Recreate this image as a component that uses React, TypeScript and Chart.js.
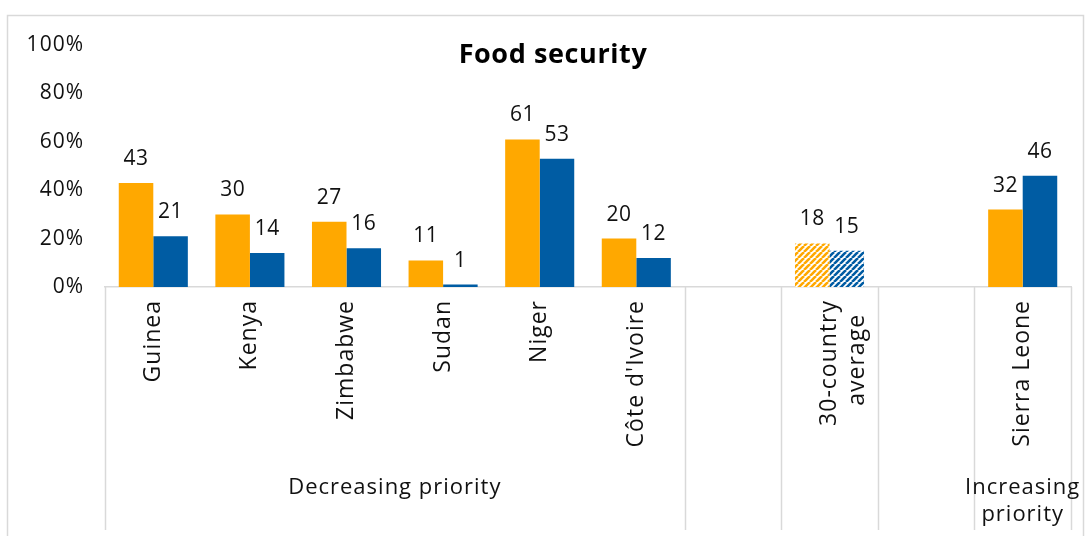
import React, { useEffect, useRef } from "react";
import { Chart, registerables } from "chart.js";

Chart.register(...registerables);

const categories: (string | string[])[] = [
  "Guinea",
  "Kenya",
  "Zimbabwe",
  "Sudan",
  "Niger",
  "Côte d'Ivoire",
  "",
  ["30-country", "average"],
  "",
  "Sierra Leone",
];
const seriesOrange: (number | null)[] = [43, 30, 27, 11, 61, 20, null, 18, null, 32];
const seriesBlue: (number | null)[] = [21, 14, 16, 1, 53, 12, null, 15, null, 46];
const hatchedIndex = 7;
const yTickValues = [0, 20, 40, 60, 80, 100];
const groupLabels = [
  { text: ["Decreasing priority"], from: 0, to: 5 },
  { text: ["Increasing", "priority"], from: 9, to: 9 },
];
const groupBoundaries = [5, 6, 7, 8];
const titleText = "Food security";

const ORANGE = "#FFA800";
const BLUE = "#005CA3";
const GRID = "#D9D9D9";
const TEXT = "#111111";
const FONT = "'Open Sans', Lato, sans-serif";
const W = 1085;
const H = 536;

function makeHatch(color: string): CanvasPattern | string {
  const s = 6;
  const c = document.createElement("canvas");
  c.width = s;
  c.height = s;
  const g = c.getContext("2d");
  if (!g) return color;
  g.fillStyle = "#ffffff";
  g.fillRect(0, 0, s, s);
  g.strokeStyle = color;
  g.lineWidth = 2.6;
  g.beginPath();
  for (let k = -1; k <= 1; k++) {
    g.moveTo(k * s, s);
    g.lineTo(k * s + s, 0);
  }
  g.stroke();
  const p = g.createPattern(c, "repeat");
  return p || color;
}

function setSpacing(ctx: any, v: string) {
  try {
    ctx.letterSpacing = v;
  } catch (e) {
    /* ignore */
  }
}

const decorPlugin = {
  id: "decor",
  beforeLayout(chart: any) {
    setSpacing(chart.ctx, "1px");
  },
  beforeDraw(chart: any) {
    const ctx = chart.ctx;
    setSpacing(ctx, "1px");
    ctx.save();
    ctx.strokeStyle = GRID;
    ctx.lineWidth = 1.5;
    ctx.strokeRect(7.5, 15.5, W - 8.5 - 7.5 + 7, H + 10);
    ctx.restore();
  },
  afterDraw(chart: any) {
    const ctx = chart.ctx;
    const x = chart.scales.x;
    const area = chart.chartArea;
    ctx.save();
    // separators
    ctx.strokeStyle = GRID;
    ctx.lineWidth = 1.5;
    const xs: number[] = [area.left, area.right];
    groupBoundaries.forEach((i) => {
      xs.push((x.getPixelForValue(i) + x.getPixelForValue(i + 1)) / 2);
    });
    xs.forEach((px) => {
      ctx.beginPath();
      ctx.moveTo(Math.round(px) + 0.5, area.bottom);
      ctx.lineTo(Math.round(px) + 0.5, 530);
      ctx.stroke();
    });
    // group labels
    ctx.fillStyle = TEXT;
    setSpacing(ctx, "1px");
    ctx.font = `22px ${FONT}`;
    ctx.textAlign = "center";
    ctx.textBaseline = "alphabetic";
    groupLabels.forEach((gl) => {
      const cx = (x.getPixelForValue(gl.from) + x.getPixelForValue(gl.to)) / 2;
      gl.text.forEach((t, li) => {
        ctx.fillText(t, cx, 494 + li * 27);
      });
    });
    // title
    setSpacing(ctx, "0.6px");
    ctx.font = `bold 27px ${FONT}`;
    ctx.fillStyle = "#000000";
    ctx.textBaseline = "middle";
    ctx.fillText(titleText, 553, 55);
    // data labels
    setSpacing(ctx, "0.5px");
    ctx.font = `21px ${FONT}`;
    ctx.fillStyle = TEXT;
    chart.data.datasets.forEach((ds: any, di: number) => {
      const meta = chart.getDatasetMeta(di);
      meta.data.forEach((el: any, i: number) => {
        const v = ds.data[i];
        if (v === null || v === undefined) return;
        ctx.fillText(String(v), el.x, el.y - 24);
      });
    });
    ctx.restore();
    setSpacing(ctx, "1px");
  },
};

export default function App() {
  const ref = useRef<HTMLCanvasElement | null>(null);
  useEffect(() => {
    if (!ref.current) return;
    const orangeHatch = makeHatch(ORANGE);
    const blueHatch = makeHatch(BLUE);
    const chart = new Chart(ref.current, {
      type: "bar",
      data: {
        labels: categories,
        datasets: [
          {
            label: "Series 1",
            data: seriesOrange,
            backgroundColor: categories.map((_, i) => (i === hatchedIndex ? orangeHatch : ORANGE)) as any,
            barPercentage: 1,
            categoryPercentage: 0.715,
          },
          {
            label: "Series 2",
            data: seriesBlue,
            backgroundColor: categories.map((_, i) => (i === hatchedIndex ? blueHatch : BLUE)) as any,
            barPercentage: 1,
            categoryPercentage: 0.715,
          },
        ],
      },
      options: {
        responsive: false,
        animation: false,
        layout: { padding: { top: 45, right: 14, left: 0, bottom: 0 } },
        plugins: {
          legend: { display: false },
          title: { display: false },
          tooltip: { enabled: false },
        },
        scales: {
          x: {
            grid: { display: false, drawTicks: false },
            border: { display: true, color: GRID, width: 1.5 },
            ticks: {
              maxRotation: 90,
              minRotation: 90,
              autoSkip: false,
              padding: 13,
              color: TEXT,
              font: { family: FONT, size: 23 },
              callback: function (this: any, _v: any, i: number) {
                const lab = categories[i];
                if (Array.isArray(lab)) {
                  const longest = Math.max(...lab.map((l) => l.length));
                  return lab.map((l) => (l.length < longest ? l + "  " : l));
                }
                return lab;
              },
            },
            afterFit: (s: any) => {
              s.height = H - 287;
            },
          },
          y: {
            min: 0,
            max: 100,
            afterBuildTicks: (s: any) => {
              s.ticks = yTickValues.map((v) => ({ value: v }));
            },
            grid: { display: false, drawTicks: false },
            border: { display: false },
            ticks: {
              padding: 21,
              color: TEXT,
              font: { family: FONT, size: 21 },
              callback: (v: any) => `${v}%`,
            },
            afterFit: (s: any) => {
              s.width = 105;
            },
          },
        },
      },
      plugins: [decorPlugin],
    });
    return () => chart.destroy();
  }, []);
  return (
    <canvas
      ref={ref}
      width={W}
      height={H}
      style={{ position: "absolute", left: 0, top: 0, width: W, height: H }}
    />
  );
}
